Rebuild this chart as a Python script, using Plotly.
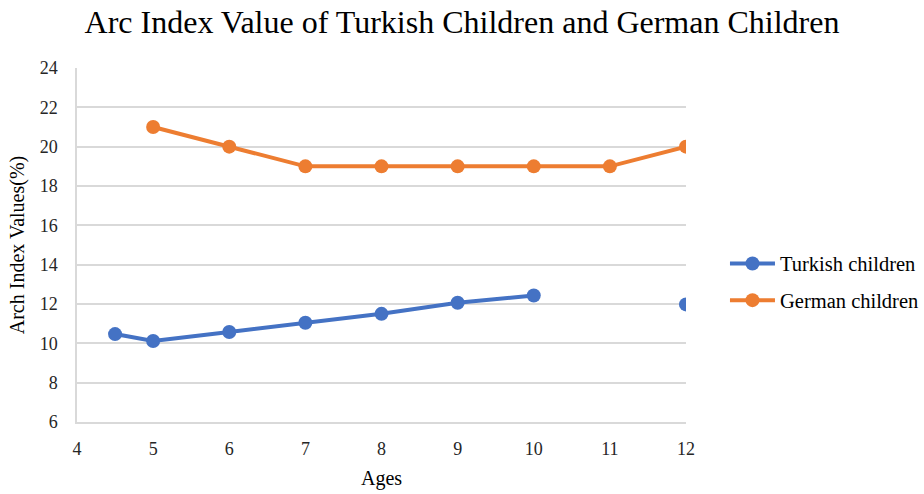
import plotly.graph_objects as go

ages_turkish = [4.5, 5, 6, 7, 8, 9, 10, 11, 12]
turkish_values = [10.47, 10.12, 10.58, 11.05, 11.5, 12.06, 12.43, None, 11.98]
ages_german = [5, 6, 7, 8, 9, 10, 11, 12]
german_values = [21, 20, 19, 19, 19, 19, 19, 20]

blue = "#4472C4"
orange = "#ED7D31"
font_family = "Liberation Serif"

fig = go.Figure()
fig.add_trace(go.Scatter(
    x=ages_turkish, y=turkish_values, name="Turkish children",
    mode="lines+markers", connectgaps=False, legendgroup="t",
    line=dict(color=blue, width=4),
    marker=dict(color=blue, size=14),
))
fig.add_trace(go.Scatter(
    x=ages_german, y=german_values, name="German children",
    mode="lines+markers", legendgroup="g",
    line=dict(color=orange, width=4),
    marker=dict(color=orange, size=14),
))

fig.update_layout(
    width=924, height=494,
    paper_bgcolor="white", plot_bgcolor="white",
    margin=dict(l=77, r=238, t=68, b=72, autoexpand=False),
    font=dict(family=font_family, size=18, color="#262626"),
    title=dict(
        text="Arc Index Value of Turkish Children and German Children",
        x=0.5, xref="container", xanchor="center",
        y=0.9555, yref="container", yanchor="middle",
        font=dict(family=font_family, size=32, color="black"),
    ),
    legend=dict(
        x=1.064, xanchor="left", y=0.395, yanchor="middle",
        font=dict(family=font_family, size=20.5, color="black"),
        itemwidth=45, tracegroupgap=7,
        bgcolor="rgba(0,0,0,0)",
    ),
    xaxis=dict(
        range=[4, 12], dtick=1, tick0=4,
        showgrid=False, zeroline=False,
        showline=True, linecolor="#D9D9D9", linewidth=1.5,
        ticks="", ticklabelstandoff=10,
        tickfont=dict(family=font_family, size=18, color="#262626"),
        title=dict(text="Ages", font=dict(family=font_family, size=20, color="black"), standoff=13),
    ),
    yaxis=dict(
        range=[6, 24], dtick=2, tick0=6,
        showgrid=True, gridcolor="#D9D9D9", gridwidth=1.5,
        zeroline=False,
        showline=True, linecolor="#D9D9D9", linewidth=1.5,
        ticks="", ticklabelstandoff=14,
        tickfont=dict(family=font_family, size=18, color="#262626"),
        title=dict(text="Arch Index Values(%)", font=dict(family=font_family, size=20, color="black"), standoff=10),
    ),
)

fig.write_html("out.html")
